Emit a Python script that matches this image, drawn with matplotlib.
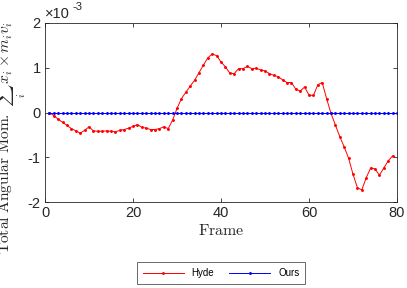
import numpy as np
import matplotlib.pyplot as plt

plt.rcParams['mathtext.fontset'] = 'cm'
plt.rcParams['font.family'] = ['Liberation Sans', 'DejaVu Sans']

# Hyde の角運動量 (単位: 1e-3), frame 1..79
hyde_frames = list(range(1, 80))
hyde_vals = [0.00, -0.07, -0.15, -0.22, -0.29, -0.36, -0.41, -0.46, -0.40, -0.32,
             -0.41, -0.42, -0.42, -0.41, -0.42, -0.43, -0.40, -0.38, -0.35, -0.31,
             -0.27, -0.33, -0.35, -0.38, -0.38, -0.36, -0.32, -0.36, -0.17, 0.09,
             0.31, 0.45, 0.59, 0.72, 0.89, 1.06, 1.22, 1.31, 1.27, 1.13,
             1.02, 0.88, 0.87, 0.98, 0.98, 1.03, 0.98, 0.99, 0.95, 0.93,
             0.87, 0.83, 0.80, 0.73, 0.67, 0.67, 0.52, 0.48, 0.57, 0.39,
             0.38, 0.62, 0.67, 0.31, -0.02, -0.28, -0.54, -0.77, -1.02, -1.38,
             -1.68, -1.73, -1.46, -1.24, -1.26, -1.40, -1.24, -1.08, -0.97]

# Ours (提案手法) はずっとゼロ, frame 1..80
ours_frames = list(range(1, 81))
ours_vals = [0.0] * len(ours_frames)

xticks = [0, 20, 40, 60, 80]
yticks = [-2, -1, 0, 1, 2]

fig = plt.figure(figsize=(4.07, 2.88), dpi=100)
ax = fig.add_axes([45 / 407, 1 - 202 / 288, 352 / 407, 179 / 288])

ax.plot(hyde_frames, hyde_vals, '.-', color='red', lw=0.7, ms=2.2, label='Hyde')
ax.plot(ours_frames, ours_vals, '.-', color='blue', lw=0.7, ms=2.2, label='Ours')

ax.set_xlim(0, 80)
ax.set_ylim(-2, 2)
ax.set_xticks(xticks)
ax.set_yticks(yticks)
ax.set_yticklabels([str(v) for v in yticks])
ax.tick_params(direction='in', length=3, width=0.6, labelsize=10.5,
               colors='#262626', top=True, right=True, pad=3)
for s in ax.spines.values():
    s.set_color('#262626')
    s.set_linewidth(0.6)

# ×10^-3 の表示
ax.text(0.0, 1.01, '\u00d710', transform=ax.transAxes,
        fontsize=10.5, color='#262626', ha='left', va='bottom')
ax.text(0.078, 1.06, '-3', transform=ax.transAxes,
        fontsize=8, color='#262626', ha='left', va='bottom')

ax.set_xlabel(r'$\mathrm{Frame}$', fontsize=11.5, color='#262626', labelpad=2)
# 縦軸ラベルは fig.text で直接配置
fig.text(10 / 407, 1 - 138 / 288,
         r'$\mathrm{Total\ Angular\ Mom.}\ \sum_i\, x_i \times m_i v_i$',
         fontsize=11.2, color='#262626', rotation=90, ha='center', va='center')

leg = fig.legend(loc='center', bbox_to_anchor=(221 / 407, 1 - 273 / 288), ncol=2,
                 fontsize=7, frameon=True, fancybox=False, edgecolor='#262626',
                 handlelength=4.2, columnspacing=1.6, borderpad=0.6)
leg.get_frame().set_linewidth(0.6)

plt.savefig('out.png', dpi=100, facecolor='white')
